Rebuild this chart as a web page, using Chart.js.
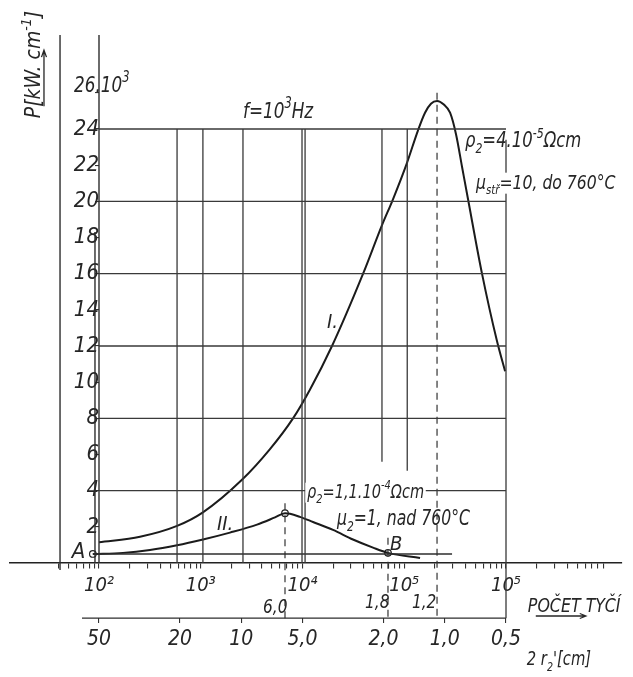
<!DOCTYPE html>
<html>
<head>
<meta charset="utf-8">
<script src="https://cdn.jsdelivr.net/npm/chart.js@4.4.0/dist/chart.umd.min.js"></script>
<style>
  html, body { margin: 0; padding: 0; background: #fff; }
</style>
</head>
<body>
<canvas id="chart" width="633" height="677"></canvas>
<script>
const FONT = "'Liberation Sans Narrow', 'DejaVu Sans Condensed', 'Liberation Sans', sans-serif";
const INK = '#262626';
const LINE = '#3a3a3a';

// values: x = number of bars (pocet tyci), y = P [10^3 kW/cm]
const curve1Count = [100, 253, 585, 1050, 2540, 4790, 8070, 11860, 19500, 39400, 60600, 77300, 106000, 136000, 160000, 183000, 210000, 245000, 282000, 323000, 370000, 424000, 581000, 813000, 980000];
const curve1Power = [1.15, 1.45, 2.05, 2.8, 4.6, 6.3, 8.0, 9.6, 12.0, 16.0, 18.7, 20.1, 22.1, 23.9, 24.9, 25.4, 25.55, 25.35, 24.9, 23.7, 21.9, 20.1, 16.0, 12.3, 10.6];
const curve2Count = [87, 172, 317, 585, 1052, 1937, 3573, 5370, 6730, 7540, 9440, 12680, 19950, 31330, 49300, 69200, 143000];
const curve2Power = [0.5, 0.56, 0.72, 0.98, 1.3, 1.68, 2.12, 2.52, 2.75, 2.72, 2.55, 2.27, 1.83, 1.3, 0.85, 0.56, 0.28];

// small circles: A, top of curve II, B
const pointCount = [87, 6730, 69200];
const pointPower = [0.5, 2.75, 0.56];

const powerTicks = [0, 2, 4, 6, 8, 10, 12, 14, 16, 18, 20, 22, 24, 26];
const countTicks = [100, 1000, 10000, 100000, 1000000];
const countLabels = ['10²', '10³', '10⁴', '10⁵', '10⁵'];
const diameterTicks = [50, 20, 10, 5, 2, 1, 0.5];
const diameterLabels = ['50', '20', '10', '5,0', '2,0', '1,0', '0,5'];

// grid as drawn by hand
const gridPower = [4, 8, 12, 16, 20, 24];
const gridCount = [585, 1050, 2600, 9890, 10600];
const shortGridCount = [60400, 107000];
const shortGridEnd = [5.6, 5.1];
const dashCount = [6730, 69200, 210000];
const dashTop = [3.3, 1.4, 26.0];
const baseLine = [87, 295000, 0.5];   // A ... B line

// page geometry -> scale limits
const W = 633, H = 677;
const PAD = {left: 10, right: 11, top: 16, bottom: 16};
const X100 = 99, X1E6 = 506, Y0 = 563, Y24 = 129;
const decade = (X1E6 - X100) / 4;
const xMin = Math.pow(10, 2 - (X100 - PAD.left) / decade);
const xMax = Math.pow(10, 6 + (W - PAD.right - X1E6) / decade);
const unit = (Y0 - Y24) / 24;
const yMax = (Y0 - PAD.top) / unit;
const yMin = -(H - PAD.bottom - Y0) / unit;
const dOf = n => 500 / Math.sqrt(n);   // 2r' [cm] belonging to n bars
const LOWER = -3.05;                    // level of the 2r' scale
const TOP = 29.2;

function pairs(xs, ys) { return xs.map((x, i) => ({x: x, y: ys[i]})); }
function segments(list) {
  const out = [];
  list.forEach(s => { out.push({x: s[0], y: s[1]}, {x: s[2], y: s[3]}, {x: s[2], y: null}); });
  return out;
}

const gridSegs = segments(
  gridPower.map(p => [100, p, 1e6, p])
    .concat(gridCount.map(n => [n, 24, n, 0]))
    .concat(shortGridCount.map((n, i) => [n, 24, n, shortGridEnd[i]]))
    .concat([[1e6, 23.4, 1e6, LOWER]])
);
const frameSegs = segments([
  [41.4, TOP, 41.4, -0.39],
  [100, TOP, 100, 0],
  [91.3, 18.3, 91.3, 0],
  [68, LOWER, 1e6, LOWER],
  [baseLine[0], baseLine[2], baseLine[1], baseLine[2]]
]);
const dashSegs = segments(dashCount.map((n, i) => [n, dashTop[i], n, LOWER]));

// text: n, p = left end of the baseline; runs: 0 normal, 1 subscript, 2 superscript
const notes = [
  {n: 56.8, p: 26.05, size: 22, sq: 0.85, runs: [['26.10', 0], ['3', 2]]},
  {n: 2600, p: 24.6, size: 22, sq: 0.85, runs: [['f=10', 0], ['3', 2], ['Hz', 0]]},
  {n: 395000, p: 23.0, size: 21, sq: 0.87, runs: [['ρ', 0], ['2', 1], ['=4.10', 0], ['-5', 2], ['Ωcm', 0]]},
  {n: 507000, p: 20.7, size: 20, sq: 0.87, knock: true, runs: [['μ', 0], ['stř', 1], ['=10, do 760°C', 0]]},
  {n: 11070, p: 3.6, size: 19, sq: 0.85, knock: true, runs: [['ρ', 0], ['2', 1], ['=1,1.10', 0], ['-4', 2], ['Ωcm', 0]]},
  {n: 21800, p: 2.1, size: 20.5, sq: 0.85, runs: [['μ', 0], ['2', 1], ['=1, nad 760°C', 0]]},
  {n: 17400, p: 13.0, size: 20, sq: 1, runs: [['I.', 0]]},
  {n: 1445, p: 1.83, size: 20, sq: 1, runs: [['II.', 0]]},
  {n: 54, p: 0.28, size: 22, sq: 1, runs: [['A', 0]]},
  {n: 72400, p: 0.72, size: 20, sq: 1, runs: [['B', 0]]},
  {n: 4090, p: -2.77, size: 19, sq: 0.9, runs: [['6,0', 0]]},
  {n: 41100, p: -2.49, size: 19, sq: 0.9, runs: [['1,8', 0]]},
  {n: 119000, p: -2.49, size: 19, sq: 0.9, runs: [['1,2', 0]]},
  {n: 1.64e6, p: -2.71, size: 20, sq: 0.88, under: [9, 66], runs: [['POČET TYČÍ', 0]]},
  {n: 1.6e6, p: -5.64, size: 20, sq: 0.82, runs: [['2 r', 0], ['2', 1], ["'[cm]", 0]]},
  {n: 26.3, p: 24.6, size: 21, sq: 1, rotate: true, under: [12, 68], runs: [['P[kW. cm', 0], ['-1', 2], [']', 0]]}
];

function runFont(size) { return 'italic ' + size + 'px ' + FONT; }

function drawRuns(ctx, runs, size) {
  let x = 0;
  runs.forEach(r => {
    const s = r[1] ? Math.round(size * 0.66) : size;
    const dy = r[1] === 1 ? size * 0.28 : (r[1] === 2 ? -size * 0.45 : 0);
    ctx.font = runFont(s);
    ctx.fillText(r[0], x, dy);
    x += ctx.measureText(r[0]).width;
  });
  return x;
}

function runsWidth(ctx, runs, size) {
  let w = 0;
  runs.forEach(r => {
    ctx.font = runFont(r[1] ? Math.round(size * 0.66) : size);
    w += ctx.measureText(r[0]).width;
  });
  return w;
}

const notesPlugin = {
  id: 'notes',
  afterDraw(chart) {
    const ctx = chart.ctx;
    const xs = chart.scales.x, ys = chart.scales.y;
    notes.forEach(note => {
      const px = xs.getPixelForValue(note.n);
      const py = ys.getPixelForValue(note.p);
      ctx.save();
      ctx.translate(px, py);
      if (note.rotate) ctx.rotate(-Math.PI / 2);
      ctx.scale(note.sq, 1);
      if (note.knock) {
        ctx.fillStyle = '#fff';
        ctx.fillRect(-2, -note.size * 0.8, runsWidth(ctx, note.runs, note.size) + 4, note.size * 1.05);
      }
      ctx.fillStyle = INK;
      ctx.textAlign = 'left';
      ctx.textBaseline = 'alphabetic';
      drawRuns(ctx, note.runs, note.size);
      if (note.under) {
        const a = note.under[0], b = note.under[1];
        ctx.strokeStyle = INK;
        ctx.lineWidth = 1.3;
        ctx.beginPath();
        ctx.moveTo(a, 4);
        ctx.lineTo(b, 4);
        ctx.moveTo(b - 7, 1.5);
        ctx.lineTo(b, 4);
        ctx.lineTo(b - 7, 6.5);
        ctx.stroke();
      }
      ctx.restore();
    });
  }
};

const tickFont = size => ({family: FONT, size: size, style: 'italic', weight: 'normal'});

const minorTicks = [];
for (let k = 1; k <= 6; k++) {
  for (let m = 2; m <= 9; m++) {
    const v = m * Math.pow(10, k);
    if (v >= 40 && v <= 9e6) minorTicks.push(v);
  }
}

new Chart(document.getElementById('chart'), {
  type: 'line',
  data: {
    datasets: [
      {data: gridSegs, borderColor: LINE, borderWidth: 1.3, pointRadius: 0, spanGaps: false},
      {data: frameSegs, borderColor: '#2e2e2e', borderWidth: 1.4, pointRadius: 0, spanGaps: false},
      {data: dashSegs, borderColor: '#333', borderWidth: 1.2, borderDash: [7, 5], pointRadius: 0, spanGaps: false},
      {label: 'I.', data: pairs(curve1Count, curve1Power), borderColor: '#1b1b1b', borderWidth: 2,
        pointRadius: 0, cubicInterpolationMode: 'monotone'},
      {label: 'II.', data: pairs(curve2Count, curve2Power), borderColor: '#1b1b1b', borderWidth: 2,
        pointRadius: 0, cubicInterpolationMode: 'monotone'},
      {data: pairs(pointCount, pointPower), showLine: false, pointRadius: 3.3,
        pointBackgroundColor: '#fff', pointBorderColor: '#222', pointBorderWidth: 1.2}
    ]
  },
  options: {
    responsive: false,
    animation: false,
    events: [],
    layout: {padding: PAD},
    plugins: {legend: {display: false}, tooltip: {enabled: false}},
    scales: {
      x: {
        type: 'logarithmic',
        min: xMin,
        max: xMax,
        position: {y: 0},
        afterBuildTicks: s => {
          s.ticks = countTicks.concat(minorTicks.filter(v => countTicks.indexOf(v) < 0))
            .sort((a, b) => a - b).map(v => ({value: v}));
        },
        ticks: {
          autoSkip: false, maxRotation: 0, minRotation: 0, padding: 6, color: INK,
          font: tickFont(20),
          callback: v => { const i = countTicks.indexOf(v); return i < 0 ? '' : countLabels[i]; }
        },
        grid: {display: true, drawOnChartArea: false, drawTicks: true, tickLength: 5, color: '#333', lineWidth: 1.1},
        border: {display: true, color: '#222', width: 1.5}
      },
      x2: {
        type: 'logarithmic',
        axis: 'x',
        reverse: true,
        min: dOf(xMax),
        max: dOf(xMin),
        position: {y: LOWER},
        afterBuildTicks: s => { s.ticks = diameterTicks.map(v => ({value: v})); },
        ticks: {
          autoSkip: false, maxRotation: 0, minRotation: 0, padding: 4, color: INK,
          font: tickFont(21),
          callback: v => { const i = diameterTicks.indexOf(v); return i < 0 ? '' : diameterLabels[i]; }
        },
        grid: {display: true, drawOnChartArea: false, drawTicks: true, tickLength: 5, color: '#333', lineWidth: 1.1},
        border: {display: false}
      },
      y: {
        type: 'linear',
        min: yMin,
        max: yMax,
        position: {x: 100},
        afterBuildTicks: s => { s.ticks = powerTicks.map(v => ({value: v})); },
        ticks: {
          autoSkip: false, padding: -2, color: INK,
          font: tickFont(22),
          callback: v => (v === 0 || v === 26) ? '' : String(v)
        },
        grid: {display: true, drawOnChartArea: false, drawTicks: true, tickLength: 4, color: '#333', lineWidth: 1.1},
        border: {display: false}
      }
    }
  },
  plugins: [notesPlugin]
});
</script>
</body>
</html>
